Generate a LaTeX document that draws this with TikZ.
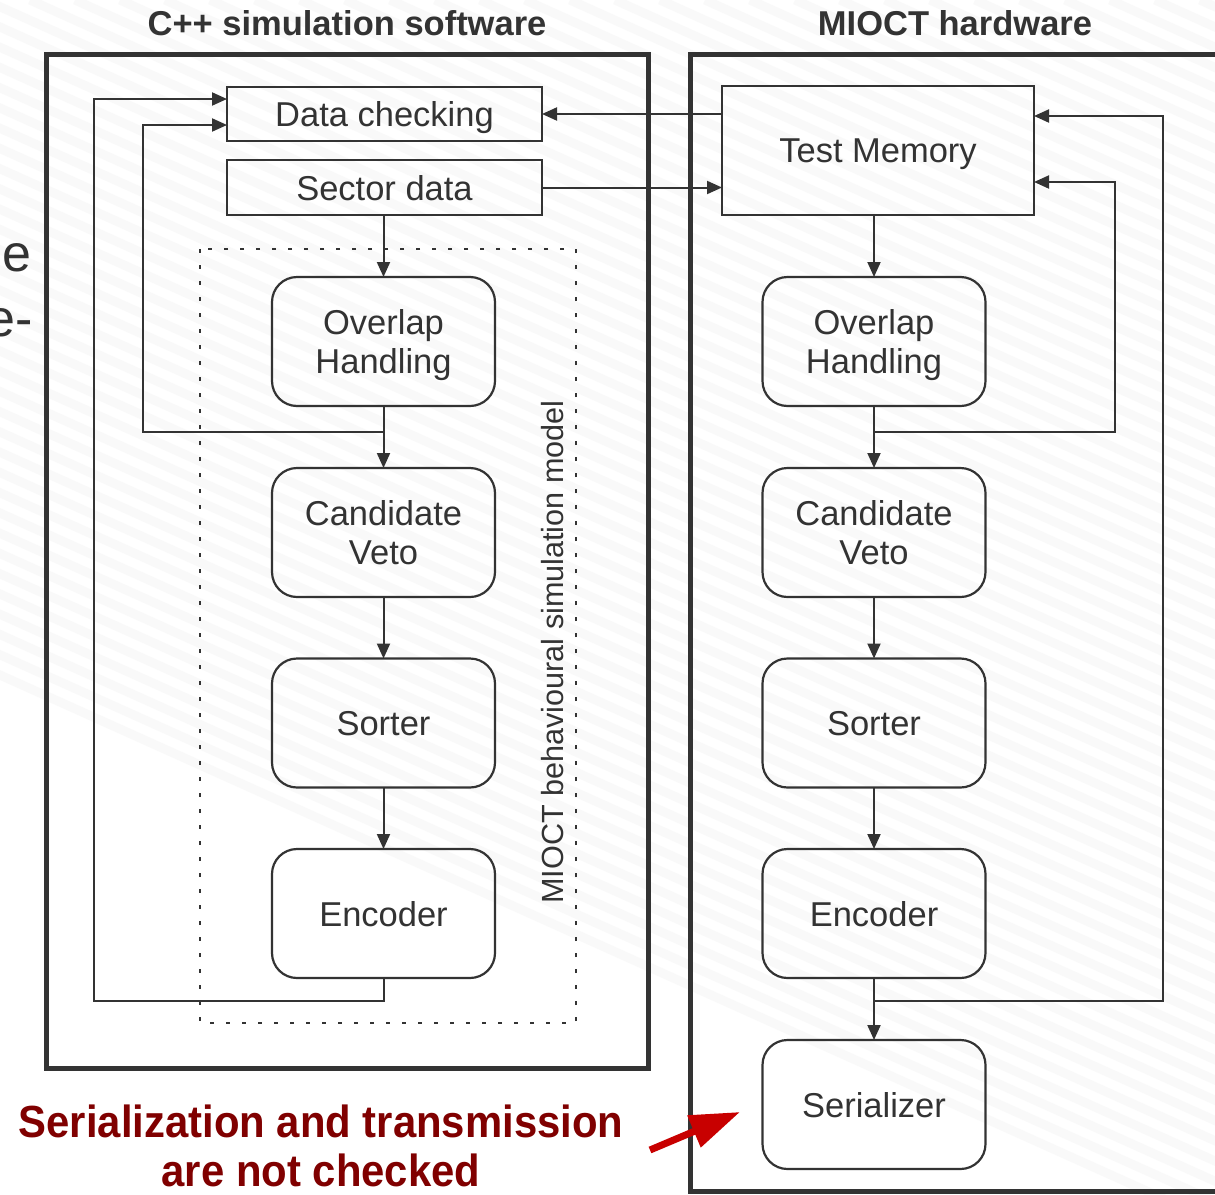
\documentclass[tikz,border=0pt]{standalone}
\usepackage{fontspec}
\setmainfont{Liberation Sans}
\newfontfamily\redfont[FakeStretch=0.93]{Liberation Sans}
\usetikzlibrary{arrows.meta,calc}
\definecolor{ink}{HTML}{333333}
\definecolor{notered}{RGB}{128,0,0}
\definecolor{arrowred}{RGB}{200,0,0}
\begin{document}
\begin{tikzpicture}[x=1pt,y=-1pt,
  box/.style={draw=ink, line width=2.2pt, minimum width=223pt, minimum height=129pt,
    rounded corners=25pt, align=center, font=\fontsize{34.5}{39}\selectfont, text=ink,
    text depth=0pt, inner sep=0pt, outer sep=0pt},
  flat/.style={draw=ink, line width=2.2pt, align=center, font=\fontsize{34.5}{39}\selectfont,
    text=ink, text depth=0pt, inner sep=0pt, outer sep=0pt},
  conn/.style={draw=ink, line width=2pt, -{Triangle[length=15pt,width=13pt]}},
  frame/.style={draw=ink, line width=5pt},
  title/.style={font=\fontsize{34.5}{40}\selectfont\bfseries, text=ink},
  note/.style={font=\redfont\bfseries\fontsize{45}{51}\selectfont, text=notered}]
\useasboundingbox (0,0) rectangle (1215,1194);
\fill[white] (0,0) rectangle (1215,1194);
\begin{scope}
\clip (0,0) rectangle (1215,1194);
\foreach \i in {0,...,70} {
  \draw[gray!5, line width=9pt] (-1500+\i*45,0) -- ++(2700,1215);
}
\end{scope}

% fragments of text at the left edge
\node[anchor=base east, font=\fontsize{52}{60}\selectfont, text=ink, inner sep=0pt] (fa) at (32,271) {e};
\node[anchor=base east, font=\fontsize{52}{60}\selectfont, text=ink, inner sep=0pt] (fb) at (33,336) {e-};

% frames and titles
\draw[frame] (46,54) rectangle (648,1068);
\draw[frame] (1230,54) -- (690,54) -- (690,1191) -- (1230,1191);
\node[title] (t1) at (347,23) {C++ simulation software};
\node[title] (t2) at (955,23) {MIOCT hardware};

% dotted model region
\draw[ink, line width=2.2pt, dash pattern=on 4pt off 12pt] (200,249) rectangle (576,1023);
\node[rotate=90, font=\fontsize{30.6}{36}\selectfont, text=ink] (lbl) at (553,652) {MIOCT behavioural simulation model};

% left column
\node[flat, minimum width=315pt, minimum height=54pt] (ldc) at (384.5,114) {Data checking};
\node[flat, minimum width=315pt, minimum height=55pt] (lsd) at (384.5,187.5) {Sector data};
\node[box] (lov) at (383.5,341.5) {Overlap\\Handling};
\node[box] (lcv) at (383.5,532.5) {Candidate\\Veto};
\node[box] (lso) at (383.5,723) {Sorter};
\node[box] (len) at (383.5,913.5) {Encoder};

% right column
\node[flat, minimum width=312pt, minimum height=129pt] (rtm) at (878,150.5) {Test Memory};
\node[box] (rov) at (874,341.5) {Overlap\\Handling};
\node[box] (rcv) at (874,532.5) {Candidate\\Veto};
\node[box] (rso) at (874,723) {Sorter};
\node[box] (ren) at (874,913.5) {Encoder};
\node[box] (rse) at (874,1104.5) {Serializer};

% left connectors
\draw[conn] (lsd.south -| lov.north) -- (lov.north);
\draw[conn] (lov.south) -- (lcv.north);
\draw[conn] (lcv.south) -- (lso.north);
\draw[conn] (lso.south) -- (len.north);
\draw[conn] (lov.south) |- (143,432) |- ($(ldc.west)+(0,11)$);
\draw[conn] (len.south) |- (94,1001) |- ($(ldc.west)+(0,-15)$);

% cross connectors
\draw[conn] ($(rtm.west)+(0,-36.5)$) -- (ldc.east);
\draw[conn] (lsd.east) -- (lsd.east -| rtm.west);

% right connectors
\draw[conn] (rtm.south -| rov.north) -- (rov.north);
\draw[conn] (rov.south) -- (rcv.north);
\draw[conn] (rcv.south) -- (rso.north);
\draw[conn] (rso.south) -- (ren.north);
\draw[conn] (ren.south) -- (rse.north);
\draw[conn] (rov.south) |- (1115,432) |- ($(rtm.east)+(0,31.5)$);
\draw[conn] (ren.south) |- (1163,1001) |- ($(rtm.east)+(0,-34.5)$);

% note
\node[note, anchor=base] (n1) at (321,1137) {Serialization and transmission};
\node[note, anchor=base] (n2) at (321,1186) {are not checked};
\coordinate (rtail) at (650,1150);
\coordinate (rtip) at (740,1112);
\draw[arrowred, line width=7pt, -{Triangle[length=50pt,width=33pt]}] (rtail) -- (rtip);
\end{tikzpicture}
\end{document}
